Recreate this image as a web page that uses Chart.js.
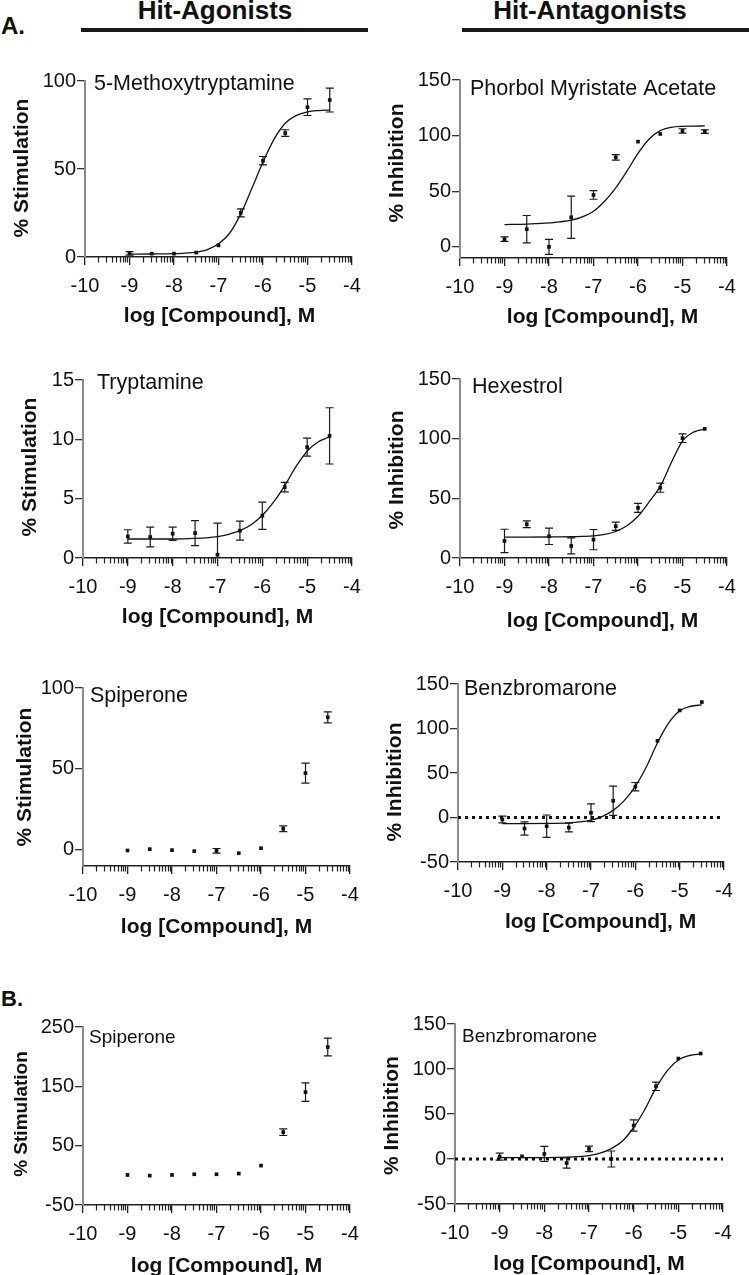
<!DOCTYPE html>
<html>
<head>
<meta charset="utf-8">
<script src="https://cdn.jsdelivr.net/npm/chart.js@4.4.1/dist/chart.umd.min.js"></script>
<style>
  html, body { margin: 0; padding: 0; background: #fff; }
  #page { position: relative; width: 749px; height: 1275px; overflow: hidden; font-family: 'Liberation Sans', Arial, sans-serif; color: #111; }
  .head { position: absolute; font-weight: bold; font-size: 26px; line-height: 26px; white-space: nowrap; transform: translateX(-50%); }
  .bar { position: absolute; height: 4px; background: #1a1a1a; }
  .tag { position: absolute; font-weight: bold; white-space: nowrap; }
  .cell { position: absolute; }
</style>
</head>
<body>
<div id="page">
  <div class="head" style="left:215px; top:-3px">Hit-Agonists</div>
  <div class="head" style="left:590px; top:-3px">Hit-Antagonists</div>
  <div class="bar" style="left:81px; top:28px; width:287px"></div>
  <div class="bar" style="left:462px; top:28px; width:287px"></div>
  <div class="tag" style="left:1px; top:14px; font-size:24px; line-height:24px">A.</div>
  <div class="tag" style="left:1px; top:988px; font-size:22px; line-height:22px">B.</div>
</div>
<script>
// log molar concentrations tested, and the grid the fitted curves were read on
const doses = [-9, -8.5, -8, -7.5, -7, -6.5, -6, -5.5, -5, -4.5]
const fitDoses = [-9, -8.5, -8, -7.5, -7.25, -7, -6.75, -6.5, -6.25, -6, -5.75, -5.5, -5.25, -5, -4.75, -4.5]
const logTicks = [-10, -9, -8, -7, -6, -5, -4]

// 5-Methoxytryptamine (% stimulation)
const methoxyMean = [2.1, 1.9, 1.9, 2.5, 6.6, 25.1, 54.7, 70.4, 85.1, 89.2]
const methoxyErr = [1.0, 0, 0, 0, 0, 2.3, 2.4, 1.9, 4.7, 6.8]
const methoxyFit = [1.6, 1.7, 1.9, 2.8, 4.2, 7.5, 13.5, 24.5, 39, 54, 67, 76, 80.5, 82.5, 83.2, 83.5]

// Phorbol Myristate Acetate (% inhibition)
const pmaMean = [6.9, 15.9, 0, 26.6, 46.7, 80.5, 94.6, 101.5, 104.2, 103.6]
const pmaErr = [2, 12.3, 6.7, 19, 3.9, 2.5, 0, 0, 2, 1.5]
const pmaFit = [20, 20.5, 21.5, 24, 27, 32, 41, 53, 68, 84, 97, 104.5, 107.5, 108.4, 108.6, 108.7]

// Tryptamine (% stimulation)
const tryptMean = [1.82, 1.77, 2.05, 2.1, 0.28, 2.3, 3.56, 5.97, 9.34, 10.29]
const tryptErr = [0.56, 0.84, 0.56, 1.05, 2.66, 0.8, 1.15, 0.4, 0.76, 2.37]
const tryptFit = [1.6, 1.6, 1.6, 1.65, 1.7, 1.8, 2.0, 2.3, 2.8, 3.6, 4.7, 6.1, 7.7, 9.0, 9.8, 10.2]

// Hexestrol (% inhibition)
const hexMean = [14.3, 28.3, 18.2, 10.1, 15.4, 26.6, 42, 58.9, 100.4, 108.2]
const hexErr = [9.8, 2.8, 6.9, 6.7, 8.5, 3.5, 3.8, 3.8, 3.6, 0]
const hexFit = [17.5, 17.5, 17.6, 17.8, 18.1, 18.6, 19.8, 22.2, 27, 35, 47, 60, 80, 98, 105.5, 108]

// Spiperone, panel A (% stimulation)
const spiroAMean = [-0.4, 0.4, -0.2, -0.8, -0.6, -2.1, 1.0, 13, 47.4, 81.9]
const spiroAErr = [0, 0, 0, 0, 1.4, 0, 0, 1.8, 6.2, 3.4]

// Benzbromarone, panel A (% inhibition)
const benzAMean = [-2.3, -12.4, -9.8, -11.3, 5.3, 18.8, 34.6, 86.1, 120.3, 129.7]
const benzAErr = [3.8, 7.5, 12.6, 4.9, 10, 16.4, 4.7, 0, 0, 0]
const benzAFit = [-6.8, -6.8, -6.6, -6, -5, -3, 1, 8, 19, 35, 57, 84, 106, 120, 125, 126.5]

// Spiperone, panel B (% stimulation)
const spiroBMean = [0.6, -0.5, 0.6, 1.8, 1.8, 2.9, 16.4, 72.7, 140.2, 216.2]
const spiroBErr = [0, 0, 0, 0, 0, 0, 0, 5.6, 15.5, 15]

// Benzbromarone, panel B (% inhibition)
const benzBMean = [2.6, 3, 5.6, -4.5, 11.2, 0, 37.2, 80.8, 111.6, 117.2]
const benzBErr = [3.9, 0, 8.4, 5.6, 3, 8.9, 6.3, 4.7, 0, 0]
const benzBFit = [1.5, 1.5, 1.6, 2, 2.6, 3.8, 6.5, 11.5, 20, 35, 55, 79, 98, 110, 115, 116.8]

// y tick labels
const stim100Ticks = [0, 50, 100]
const stim15Ticks = [0, 5, 10, 15]
const inhib150Ticks = [0, 50, 100, 150]
const inhibWideTicks = [-50, 0, 50, 100, 150]
const stim250Ticks = [-50, 50, 150, 250]
const zeroLine = [0, 0]

const FONT = "'Liberation Sans', Arial, sans-serif"
const INK = '#111'
const X_AXIS_H = 40

Chart.defaults.font.family = FONT
Chart.defaults.color = INK

const panels = [
  { name: '5-Methoxytryptamine', yTitle: '% Stimulation', mean: methoxyMean, err: methoxyErr, fit: methoxyFit,
    yMin: 0, yMax: 100, yTicks: stim100Ticks, zero: false,
    cell: [0, 40, 375, 295], axisX: 85, endX: 352, topY: 81, botY: 257,
    ann: [9, 9, 21.5], yT: [-63, -1, 21], xT: [1, 64.7] },
  { name: 'Phorbol Myristate Acetate', yTitle: '% Inhibition', mean: pmaMean, err: pmaErr, fit: pmaFit,
    yMin: -10, yMax: 150, yTicks: inhib150Ticks, zero: false,
    cell: [375, 40, 374, 295], axisX: 460, endX: 727, topY: 80, botY: 258,
    ann: [10, 15, 21.5], yT: [-63, -6, 21], xT: [9, 65.3] },
  { name: 'Tryptamine', yTitle: '% Stimulation', mean: tryptMean, err: tryptErr, fit: tryptFit,
    yMin: 0, yMax: 15, yTicks: stim15Ticks, zero: false,
    cell: [0, 335, 375, 315], axisX: 83, endX: 352, topY: 380, botY: 558,
    ann: [14, 9, 21.5], yT: [-53, -2, 21], xT: [0, 65.3] },
  { name: 'Hexestrol', yTitle: '% Inhibition', mean: hexMean, err: hexErr, fit: hexFit,
    yMin: 0, yMax: 150, yTicks: inhib150Ticks, zero: false,
    cell: [375, 335, 374, 315], axisX: 460, endX: 727, topY: 379, botY: 558,
    ann: [12, 14, 21.5], yT: [-63, 1.5, 21], xT: [9, 68.7] },
  { name: 'Spiperone', yTitle: '% Stimulation', mean: spiroAMean, err: spiroAErr, fit: null,
    yMin: -10, yMax: 100, yTicks: stim100Ticks, zero: false,
    cell: [0, 650, 375, 325], axisX: 83, endX: 350, topY: 688, botY: 866,
    ann: [7, 14, 21.5], yT: [-58, 0, 21], xT: [0, 67.3] },
  { name: 'Benzbromarone', yTitle: '% Inhibition', mean: benzAMean, err: benzAErr, fit: benzAFit,
    yMin: -50, yMax: 150, yTicks: inhibWideTicks, zero: true,
    cell: [375, 650, 374, 325], axisX: 458, endX: 724, topY: 684, botY: 862,
    ann: [6, 11, 21.5], yT: [-63, 9, 21], xT: [9.6, 66.3] },
  { name: 'Spiperone', yTitle: '% Stimulation', mean: spiroBMean, err: spiroBErr, fit: null,
    yMin: -50, yMax: 250, yTicks: stim250Ticks, zero: false,
    cell: [0, 975, 375, 300], axisX: 83, endX: 350, topY: 1027, botY: 1205,
    ann: [6, 16, 19], yT: [-61, -2, 19], xT: [10, 66.7] },
  { name: 'Benzbromarone', yTitle: '% Inhibition', mean: benzBMean, err: benzBErr, fit: benzBFit,
    yMin: -50, yMax: 150, yTicks: inhibWideTicks, zero: true,
    cell: [375, 975, 374, 300], axisX: 455, endX: 723, topY: 1024, botY: 1204,
    ann: [7, 18, 19], yT: [-63, 1.6, 21], xT: [0, 66] }
]

function decor(p) {
  return {
    id: 'decor',
    beforeDatasetsDraw(chart) {
      let { ctx, chartArea: a, scales: { x, y } } = chart
      ctx.save()
      ctx.beginPath()
      ctx.rect(a.left, a.top - 2, a.right - a.left, a.bottom - a.top + 2)
      ctx.clip()
      ctx.strokeStyle = '#1a1a1a'
      ctx.lineWidth = 1.2
      doses.forEach((d, i) => {
        let e = p.err[i]
        if (!e) return
        let px = x.getPixelForValue(d)
        let hi = y.getPixelForValue(p.mean[i] + e)
        let lo = y.getPixelForValue(p.mean[i] - e)
        ctx.beginPath()
        ctx.moveTo(px, hi); ctx.lineTo(px, lo)
        ctx.moveTo(px - 4, hi); ctx.lineTo(px + 4, hi)
        ctx.moveTo(px - 4, lo); ctx.lineTo(px + 4, lo)
        ctx.stroke()
      })
      ctx.restore()
    },
    afterDraw(chart) {
      let { ctx, chartArea: a, scales: { x } } = chart
      ctx.save()
      // minor ticks of the log axis
      ctx.strokeStyle = '#222'
      ctx.lineWidth = 1.2
      ctx.beginPath()
      for (let d = logTicks[0]; d < logTicks[logTicks.length - 1]; d++) {
        for (let k = 2; k <= 9; k++) {
          let px = Math.round(x.getPixelForValue(d + Math.log10(k))) + 0.5
          ctx.moveTo(px, a.bottom)
          ctx.lineTo(px, a.bottom + 5.5)
        }
      }
      ctx.stroke()

      ctx.fillStyle = INK
      // compound name
      ctx.font = p.ann[2] + 'px ' + FONT
      ctx.textAlign = 'left'
      ctx.textBaseline = 'alphabetic'
      ctx.fillText(p.name, a.left + p.ann[0], a.top + p.ann[1])

      // x title
      ctx.font = 'bold 21px ' + FONT
      ctx.textAlign = 'center'
      ctx.fillText('log [Compound], M', (a.left + a.right) / 2 + p.xT[0], a.bottom + p.xT[1])

      // y title
      ctx.font = 'bold ' + p.yT[2] + 'px ' + FONT
      ctx.translate(a.left + p.yT[0], (a.top + a.bottom) / 2 + p.yT[1])
      ctx.rotate(-Math.PI / 2)
      ctx.textBaseline = 'middle'
      ctx.fillText(p.yTitle, 0, 0)
      ctx.restore()
    }
  }
}

let page = document.getElementById('page')

panels.forEach((p) => {
  let [cx, cy, cw, ch] = p.cell
  let holder = document.createElement('div')
  holder.className = 'cell'
  holder.style.left = cx + 'px'
  holder.style.top = cy + 'px'
  let canvas = document.createElement('canvas')
  canvas.width = cw
  canvas.height = ch
  holder.appendChild(canvas)
  page.appendChild(holder)

  let datasets = [{
    data: doses.map((d, i) => ({ x: d, y: p.mean[i] })),
    showLine: false,
    pointStyle: 'rect',
    pointRadius: 2.6,
    pointBorderWidth: 0,
    pointBackgroundColor: INK
  }]
  if (p.fit) {
    datasets.push({
      data: fitDoses.map((d, i) => ({ x: d, y: p.fit[i] })),
      showLine: true,
      pointRadius: 0,
      borderColor: INK,
      borderWidth: 1.3,
      cubicInterpolationMode: 'monotone'
    })
  }
  if (p.zero) {
    datasets.push({
      data: [logTicks[0], logTicks[logTicks.length - 1]].map((d, i) => ({ x: d, y: zeroLine[i] })),
      showLine: true,
      pointRadius: 0,
      borderColor: INK,
      borderWidth: 3,
      borderDash: [3, 4]
    })
  }

  let tickFont = { size: 20, family: FONT }

  new Chart(canvas, {
    type: 'scatter',
    data: { datasets },
    options: {
      responsive: false,
      animation: false,
      events: [],
      layout: {
        padding: {
          left: 0,
          top: p.topY - cy,
          right: cx + cw - p.endX,
          bottom: cy + ch - p.botY - X_AXIS_H
        }
      },
      plugins: { legend: { display: false }, tooltip: { enabled: false } },
      scales: {
        x: {
          type: 'linear',
          min: logTicks[0],
          max: logTicks[logTicks.length - 1],
          afterBuildTicks: (s) => { s.ticks = logTicks.map(v => ({ value: v })) },
          afterFit: (s) => { s.height = X_AXIS_H },
          ticks: { font: tickFont, color: INK, padding: 9, maxRotation: 0, autoSkip: false, callback: v => String(v) },
          grid: { drawOnChartArea: false, drawTicks: true, tickLength: 8, color: '#222', lineWidth: 1.3 },
          border: { display: true, color: '#222', width: 1.5 }
        },
        y: {
          type: 'linear',
          min: p.yMin,
          max: p.yMax,
          afterBuildTicks: (s) => { s.ticks = p.yTicks.map(v => ({ value: v })) },
          afterFit: (s) => { s.width = p.axisX - cx },
          ticks: { font: tickFont, color: INK, padding: 1, callback: v => String(v) },
          grid: { drawOnChartArea: false, drawTicks: true, tickLength: 8, color: '#333', lineWidth: 1.3 },
          border: { display: true, color: '#8c8c8c', width: 2 }
        }
      }
    },
    plugins: [decor(p)]
  })
})
</script>
</body>
</html>
